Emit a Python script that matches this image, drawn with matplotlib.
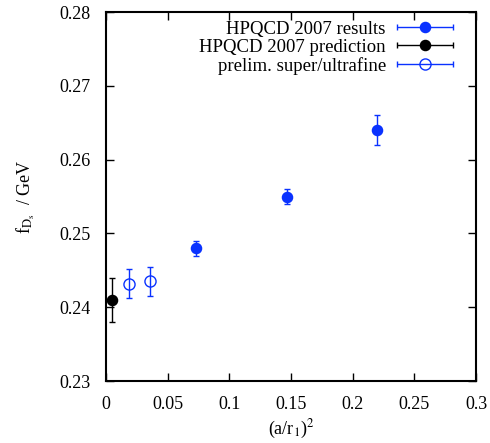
import matplotlib
matplotlib.use("Agg")
import matplotlib.pyplot as plt
from matplotlib.legend_handler import HandlerErrorbar
import numpy as np

plt.rcParams['font.family'] = ['Liberation Serif', 'DejaVu Serif']
plt.rcParams['mathtext.fontset'] = 'stix'

# HPQCD 2007 results
res_x = [0.073, 0.147, 0.220]
res_y = [0.248, 0.255, 0.264]
res_e = [0.001, 0.001, 0.002]

# HPQCD 2007 prediction
pred_x = [0.005]
pred_y = [0.241]
pred_e = [0.003]

# prelim. super/ultrafine
pre_x = [0.019, 0.036]
pre_y = [0.2432, 0.2435]
pre_e = [0.002, 0.002]

blue = '#0a32ff'

fig = plt.figure(figsize=(4.9, 4.43), dpi=100)
ax = fig.add_axes([106/490, 1-381/443, 370/490, 369/443])

styles = [
    (res_x, res_y, res_e, dict(color=blue, ms=7.3), 'HPQCD 2007 results'),
    (pred_x, pred_y, pred_e, dict(color='black', ms=7.3), 'HPQCD 2007 prediction'),
    (pre_x, pre_y, pre_e, dict(color=blue, mfc='none', ms=8), 'prelim. super/ultrafine'),
]
handles = []
for x, y, e, st, lab in styles:
    ax.errorbar(x, y, yerr=e, fmt='o', capsize=2.5, elinewidth=1, **st)
    # legend proxy with horizontal bar like gnuplot key
    h = ax.errorbar([np.nan], [np.nan], xerr=[1], fmt='o', capsize=2.5,
                    elinewidth=1, label=lab, **st)
    handles.append(h)

ax.set_xlim(0, 0.3)
ax.set_ylim(0.23, 0.28)
ax.set_xticks([0, 0.05, 0.1, 0.15, 0.2, 0.25, 0.3])
ax.set_xticklabels(['0', '0.05', '0.1', '0.15', '0.2', '0.25', '0.3'])
ax.set_yticks([0.23, 0.24, 0.25, 0.26, 0.27, 0.28])
ax.tick_params(direction='in', top=True, right=True, length=6, width=1,
               labelsize=13)
ax.tick_params(axis='x', pad=11)
ax.tick_params(axis='y', pad=11)
for s in ax.spines.values():
    s.set_linewidth(1.5)

ax.set_xlabel(r'(a/r$_1$)$^2$', fontsize=13, labelpad=3)
ax.set_ylabel(r'f$_{\mathrm{D_s}}$  / GeV', fontsize=13, labelpad=16)

leg = ax.legend(handles=handles, loc='upper right', markerfirst=False,
                frameon=False, fontsize=13.5, handlelength=3.0,
                borderaxespad=0.3, labelspacing=0.05, handletextpad=0.6,
                bbox_to_anchor=(0.974, 1.012),
                handler_map={type(handles[0]): HandlerErrorbar(xerr_size=1.5)})

fig.savefig('out.png', dpi=100)
